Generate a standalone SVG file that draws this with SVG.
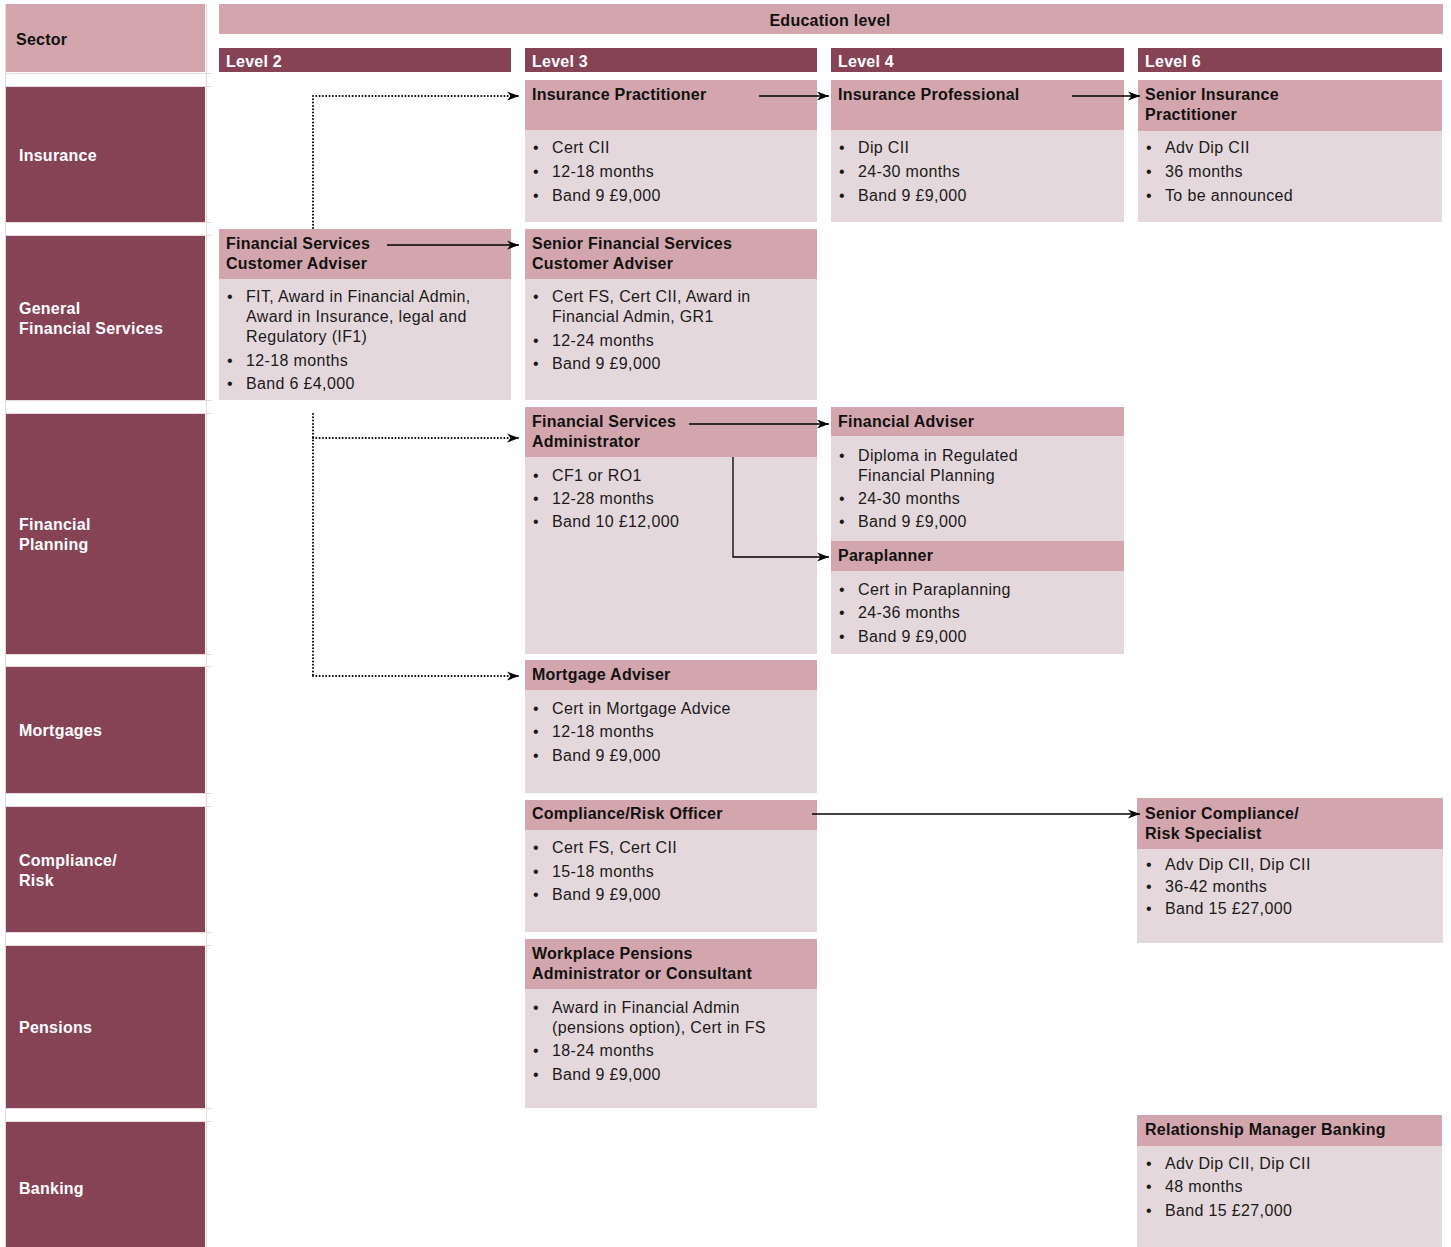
<svg xmlns="http://www.w3.org/2000/svg" width="1451" height="1247" viewBox="0 0 1451 1247">
<style>
text{font-family:"Liberation Sans",Arial,sans-serif;}
.dark{fill:#874356;}
.hd{fill:#d3a6ad;}
.bd{fill:#e5d8dc;}
.t{font-size:16px;font-weight:bold;fill:#111;letter-spacing:0.25px;}
.b{font-size:16px;fill:#1a1a1a;letter-spacing:0.35px;}
.w{font-size:16px;font-weight:bold;fill:#fff;letter-spacing:0.25px;}
.grid{stroke:#ead8dc;stroke-width:1;fill:none;}
.c{stroke:#000;stroke-width:1.3;fill:none;}
.d{stroke:#000;stroke-width:2;fill:none;stroke-dasharray:0 3.3;stroke-linecap:round;}
</style>
<defs>
<marker id="ah" markerUnits="userSpaceOnUse" markerWidth="14" markerHeight="10" refX="12" refY="5" orient="auto">
<path d="M0,0.5 L12,5 L0,9.5 L3.5,5 z" fill="#000"/>
</marker>
</defs>
<rect width="1451" height="1247" fill="#fff"/>
<g id="grid">
<path class="grid" d="M5.5,4V1247 M206.5,4V1247 M6,73.5H212 M6,86.5H212 M6,222.5H212 M6,235.5H212 M6,400.5H212 M6,413.5H212 M6,654.5H212 M6,666.5H212 M6,793.5H212 M6,806.5H212 M6,932.5H212 M6,945.5H212 M6,1108.5H212 M6,1121.5H212"/>
</g>
<g id="header">
<rect class="hd" x="6" y="4" width="199" height="68"/>
<text class="t" x="16" y="45">Sector</text>
<rect class="hd" x="219" y="4" width="1224" height="30"/>
<text class="t" x="830" y="26" text-anchor="middle">Education level</text>
<rect class="dark" x="219" y="48" width="292" height="24"/>
<text class="w" x="226" y="67">Level 2</text>
<rect class="dark" x="525" y="48" width="292" height="24"/>
<text class="w" x="532" y="67">Level 3</text>
<rect class="dark" x="831" y="48" width="293" height="24"/>
<text class="w" x="838" y="67">Level 4</text>
<rect class="dark" x="1138" y="48" width="304" height="24"/>
<text class="w" x="1145" y="67">Level 6</text>
</g>
<g id="sectors">
<g id="sector-insurance"><rect class="dark" x="6" y="87" width="199" height="135"/><text class="w" x="19" y="161">Insurance</text></g>
<g id="sector-gfs"><rect class="dark" x="6" y="236" width="199" height="164"/><text class="w" x="19" y="314">General</text><text class="w" x="19" y="334">Financial Services</text></g>
<g id="sector-fp"><rect class="dark" x="6" y="414" width="199" height="240"/><text class="w" x="19" y="530">Financial</text><text class="w" x="19" y="550">Planning</text></g>
<g id="sector-mortgages"><rect class="dark" x="6" y="667" width="199" height="126"/><text class="w" x="19" y="736">Mortgages</text></g>
<g id="sector-compliance"><rect class="dark" x="6" y="807" width="199" height="125"/><text class="w" x="19" y="866">Compliance/</text><text class="w" x="19" y="886">Risk</text></g>
<g id="sector-pensions"><rect class="dark" x="6" y="946" width="199" height="162"/><text class="w" x="19" y="1033">Pensions</text></g>
<g id="sector-banking"><rect class="dark" x="6" y="1122" width="199" height="125"/><text class="w" x="19" y="1194">Banking</text></g>
</g>
<g id="node-insurance-practitioner">
<rect class="hd" x="525" y="80" width="292" height="50"/><rect class="bd" x="525" y="130" width="292" height="92"/>
<text class="t" x="532" y="100">Insurance Practitioner</text>
<text class="b" x="533" y="153">•</text><text class="b" x="552" y="153">Cert CII</text>
<text class="b" x="533" y="177">•</text><text class="b" x="552" y="177">12-18 months</text>
<text class="b" x="533" y="201">•</text><text class="b" x="552" y="201">Band 9 £9,000</text>
</g>
<g id="node-insurance-professional">
<rect class="hd" x="831" y="80" width="293" height="50"/><rect class="bd" x="831" y="130" width="293" height="92"/>
<text class="t" x="838" y="100">Insurance Professional</text>
<text class="b" x="839" y="153">•</text><text class="b" x="858" y="153">Dip CII</text>
<text class="b" x="839" y="177">•</text><text class="b" x="858" y="177">24-30 months</text>
<text class="b" x="839" y="201">•</text><text class="b" x="858" y="201">Band 9 £9,000</text>
</g>
<g id="node-senior-insurance-practitioner">
<rect class="hd" x="1138" y="80" width="304" height="51"/><rect class="bd" x="1138" y="131" width="304" height="91"/>
<text class="t" x="1145" y="100">Senior Insurance</text>
<text class="t" x="1145" y="120">Practitioner</text>
<text class="b" x="1146" y="153">•</text><text class="b" x="1165" y="153">Adv Dip CII</text>
<text class="b" x="1146" y="177">•</text><text class="b" x="1165" y="177">36 months</text>
<text class="b" x="1146" y="201">•</text><text class="b" x="1165" y="201">To be announced</text>
</g>
<g id="node-fs-customer-adviser">
<rect class="hd" x="219" y="229" width="292" height="50"/><rect class="bd" x="219" y="279" width="292" height="121"/>
<text class="t" x="226" y="249">Financial Services</text>
<text class="t" x="226" y="269">Customer Adviser</text>
<text class="b" x="227" y="302">•</text><text class="b" x="246" y="302">FIT, Award in Financial Admin,</text>
<text class="b" x="246" y="322">Award in Insurance, legal and</text>
<text class="b" x="246" y="342">Regulatory (IF1)</text>
<text class="b" x="227" y="366">•</text><text class="b" x="246" y="366">12-18 months</text>
<text class="b" x="227" y="389">•</text><text class="b" x="246" y="389">Band 6 £4,000</text>
</g>
<g id="node-senior-fs-customer-adviser">
<rect class="hd" x="525" y="229" width="292" height="50"/><rect class="bd" x="525" y="279" width="292" height="121"/>
<text class="t" x="532" y="249">Senior Financial Services</text>
<text class="t" x="532" y="269">Customer Adviser</text>
<text class="b" x="533" y="302">•</text><text class="b" x="552" y="302">Cert FS, Cert CII, Award in</text>
<text class="b" x="552" y="322">Financial Admin, GR1</text>
<text class="b" x="533" y="346">•</text><text class="b" x="552" y="346">12-24 months</text>
<text class="b" x="533" y="369">•</text><text class="b" x="552" y="369">Band 9 £9,000</text>
</g>
<g id="node-fs-administrator">
<rect class="hd" x="525" y="407" width="292" height="50"/><rect class="bd" x="525" y="457" width="292" height="197"/>
<text class="t" x="532" y="427">Financial Services</text>
<text class="t" x="532" y="447">Administrator</text>
<text class="b" x="533" y="481">•</text><text class="b" x="552" y="481">CF1 or RO1</text>
<text class="b" x="533" y="504">•</text><text class="b" x="552" y="504">12-28 months</text>
<text class="b" x="533" y="527">•</text><text class="b" x="552" y="527">Band 10 £12,000</text>
</g>
<g id="node-financial-adviser">
<rect class="hd" x="831" y="407" width="293" height="29"/><rect class="bd" x="831" y="436" width="293" height="105"/>
<text class="t" x="838" y="427">Financial Adviser</text>
<text class="b" x="839" y="461">•</text><text class="b" x="858" y="461">Diploma in Regulated</text>
<text class="b" x="858" y="481">Financial Planning</text>
<text class="b" x="839" y="504">•</text><text class="b" x="858" y="504">24-30 months</text>
<text class="b" x="839" y="527">•</text><text class="b" x="858" y="527">Band 9 £9,000</text>
</g>
<g id="node-paraplanner">
<rect class="hd" x="831" y="541" width="293" height="30"/><rect class="bd" x="831" y="571" width="293" height="83"/>
<text class="t" x="838" y="561">Paraplanner</text>
<text class="b" x="839" y="595">•</text><text class="b" x="858" y="595">Cert in Paraplanning</text>
<text class="b" x="839" y="618">•</text><text class="b" x="858" y="618">24-36 months</text>
<text class="b" x="839" y="642">•</text><text class="b" x="858" y="642">Band 9 £9,000</text>
</g>
<g id="node-mortgage-adviser">
<rect class="hd" x="525" y="660" width="292" height="30"/><rect class="bd" x="525" y="690" width="292" height="103"/>
<text class="t" x="532" y="680">Mortgage Adviser</text>
<text class="b" x="533" y="714">•</text><text class="b" x="552" y="714">Cert in Mortgage Advice</text>
<text class="b" x="533" y="737">•</text><text class="b" x="552" y="737">12-18 months</text>
<text class="b" x="533" y="761">•</text><text class="b" x="552" y="761">Band 9 £9,000</text>
</g>
<g id="node-compliance-officer">
<rect class="hd" x="525" y="800" width="292" height="30"/><rect class="bd" x="525" y="830" width="292" height="102"/>
<text class="t" x="532" y="819">Compliance/Risk Officer</text>
<text class="b" x="533" y="853">•</text><text class="b" x="552" y="853">Cert FS, Cert CII</text>
<text class="b" x="533" y="877">•</text><text class="b" x="552" y="877">15-18 months</text>
<text class="b" x="533" y="900">•</text><text class="b" x="552" y="900">Band 9 £9,000</text>
</g>
<g id="node-senior-compliance">
<rect class="hd" x="1137" y="798" width="306" height="51"/><rect class="bd" x="1137" y="849" width="306" height="94"/>
<text class="t" x="1145" y="819">Senior Compliance/</text>
<text class="t" x="1145" y="839">Risk Specialist</text>
<text class="b" x="1146" y="870">•</text><text class="b" x="1165" y="870">Adv Dip CII, Dip CII</text>
<text class="b" x="1146" y="892">•</text><text class="b" x="1165" y="892">36-42 months</text>
<text class="b" x="1146" y="914">•</text><text class="b" x="1165" y="914">Band 15 £27,000</text>
</g>
<g id="node-workplace-pensions">
<rect class="hd" x="525" y="939" width="292" height="50"/><rect class="bd" x="525" y="989" width="292" height="119"/>
<text class="t" x="532" y="959">Workplace Pensions</text>
<text class="t" x="532" y="979">Administrator or Consultant</text>
<text class="b" x="533" y="1013">•</text><text class="b" x="552" y="1013">Award in Financial Admin</text>
<text class="b" x="552" y="1033">(pensions option), Cert in FS</text>
<text class="b" x="533" y="1056">•</text><text class="b" x="552" y="1056">18-24 months</text>
<text class="b" x="533" y="1080">•</text><text class="b" x="552" y="1080">Band 9 £9,000</text>
</g>
<g id="node-relationship-manager">
<rect class="hd" x="1137" y="1115" width="305" height="31"/><rect class="bd" x="1137" y="1146" width="305" height="101"/>
<text class="t" x="1145" y="1135">Relationship Manager Banking</text>
<text class="b" x="1146" y="1169">•</text><text class="b" x="1165" y="1169">Adv Dip CII, Dip CII</text>
<text class="b" x="1146" y="1192">•</text><text class="b" x="1165" y="1192">48 months</text>
<text class="b" x="1146" y="1216">•</text><text class="b" x="1165" y="1216">Band 15 £27,000</text>
</g>
<g id="connectors">
<path class="d" d="M313,228V96H512"/>
<path class="c" d="M512,96H519" marker-end="url(#ah)"/>
<path class="d" d="M313,414V676" />
<path class="d" d="M313,438H512"/>
<path class="c" d="M512,438H519" marker-end="url(#ah)"/>
<path class="d" d="M313,676H512"/>
<path class="c" d="M512,676H519" marker-end="url(#ah)"/>
<path class="c" d="M759,96H829" marker-end="url(#ah)"/>
<path class="c" d="M1072,96H1140" marker-end="url(#ah)"/>
<path class="c" d="M387,245H519" marker-end="url(#ah)"/>
<path class="c" d="M689,424H829" marker-end="url(#ah)"/>
<path class="c" d="M733,457V557H829" marker-end="url(#ah)"/>
<path class="c" d="M812,814H1140" marker-end="url(#ah)"/>
</g>
</svg>
